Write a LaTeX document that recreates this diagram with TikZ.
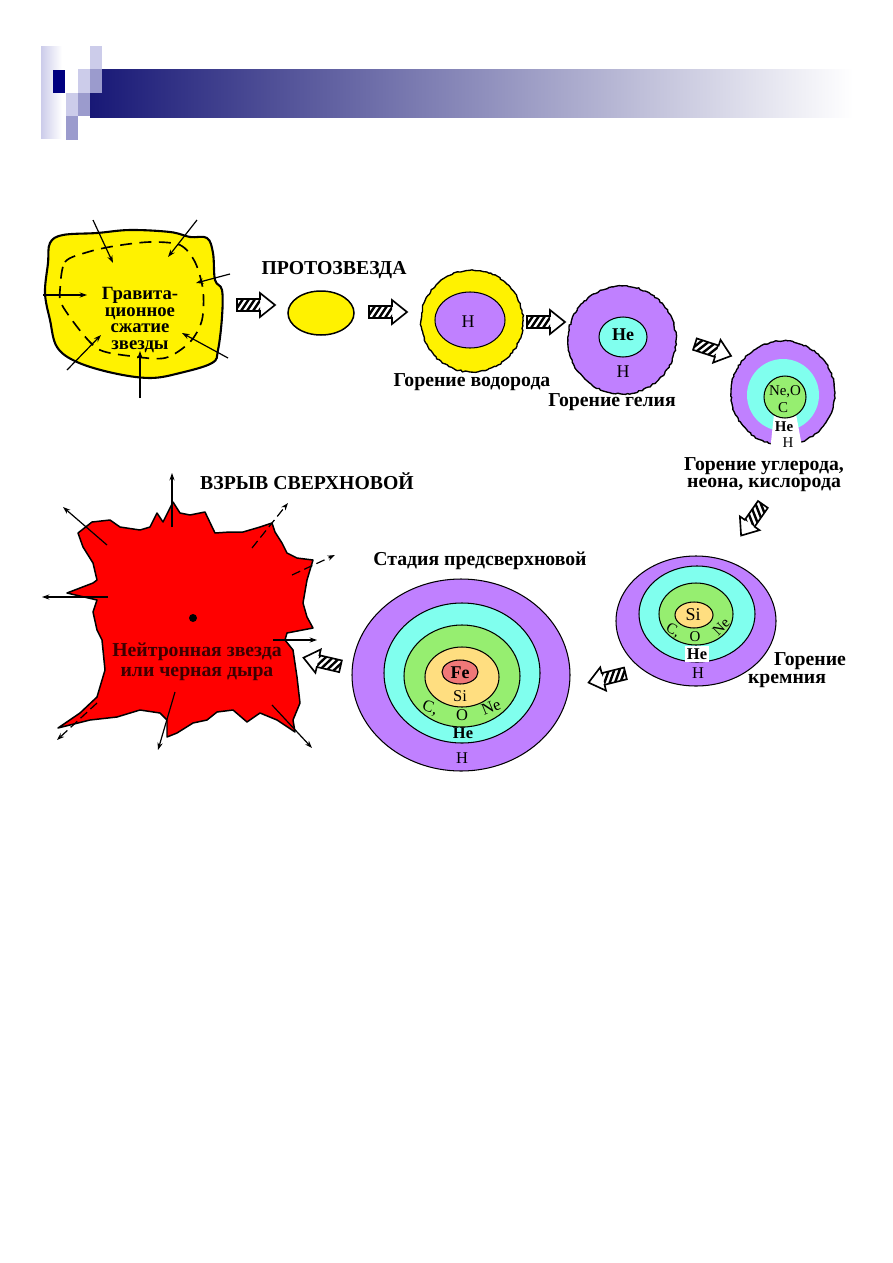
\documentclass[tikz,border=0pt]{standalone}
\usepackage{fontspec}
\setmainfont{Liberation Serif}
\usetikzlibrary{arrows.meta,decorations.pathmorphing}

\definecolor{navyband}{RGB}{24,24,118}
\definecolor{navysq}{RGB}{0,0,128}
\definecolor{bandmid}{RGB}{185,187,203}
\definecolor{lavlight}{RGB}{204,204,234}
\definecolor{lavdark}{RGB}{155,155,205}
\definecolor{shellH}{RGB}{192,128,255}
\definecolor{shellHe}{RGB}{128,255,238}
\definecolor{shellC}{RGB}{150,238,112}
\definecolor{shellSi}{RGB}{255,222,128}
\definecolor{shellFe}{RGB}{240,120,120}
\definecolor{burst}{RGB}{255,0,0}
\definecolor{coretext}{RGB}{60,0,0}

\begin{document}
\pgfmathsetseed{42}
\begin{tikzpicture}[x=0.0235cm, y=-0.0235cm,
  caption/.style={font=\bfseries\fontsize{13.2}{12}\selectfont, inner sep=0pt, align=center},
  elem/.style={font=\fontsize{11}{11}\selectfont, inner sep=0pt},
  elemb/.style={font=\bfseries\fontsize{11}{11}\selectfont, inner sep=0pt},
  rough/.style={decorate, decoration={random steps, segment length=1.6pt, amplitude=0.5pt}},
  shell/.style={draw=black, line width=0.7pt},
  pull/.style={-{Stealth[length=5pt,width=3.5pt]}, line width=0.8pt},
  pics/hatcharrow/.style={code={
    \fill[white] (-19,-6) -- (4,-6) -- (4,-12) -- (19,0) -- (4,12) -- (4,6) -- (-19,6) -- cycle;
    \begin{scope}
      \clip (-19,-6) rectangle (4,6);
      \foreach \k in {-27,-21,...,9}
        \draw[line width=1.6pt] (\k,6) -- (\k+8,-6);
    \end{scope}
    \draw[line width=1.1pt] (-19,-6) -- (4,-6) -- (4,-12) -- (19,0) -- (4,12) -- (4,6) -- (-19,6) -- cycle;
  }}]
\useasboundingbox (0,0) rectangle (893,1263);

% header band
\shade[left color=lavlight, right color=white] (41,46) rectangle (62,138);
\fill[lavlight] (90,46) rectangle (102,69);
\fill[lavlight] (78,69) rectangle (90,93);
\shade[left color=navyband, middle color=bandmid, right color=white] (90,69) rectangle (853,117);
\fill[lavdark] (90,69) rectangle (102,93);
\fill[navysq] (53,70) rectangle (65,93);
\fill[lavlight] (66,93) rectangle (78,116);
\fill[lavdark] (78,93) rectangle (90,116);
\fill[lavdark] (66,116) rectangle (78,140);

% gravitational collapse
\draw[fill=yellow, line width=1.4pt] plot[smooth cycle, tension=0.6] coordinates {
  (50,243) (63,235) (97,233) (130,230) (170,232) (190,237) (207,238) (213,253)
  (215,280) (222,290) (222,317) (218,350) (212,363) (180,373) (150,378) (113,373)
  (77,362) (57,347) (50,320) (45,293) (48,263)};
\draw[line width=1.1pt, dash pattern=on 8pt off 5pt] plot[smooth cycle] coordinates {
  (60,290) (65,262) (88,252) (115,246) (150,242) (180,245) (195,262) (203,290)
  (202,320) (190,342) (165,358) (130,356) (100,350) (82,333) (62,305)};
\draw[pull] (93,220) -- (113,263);
\draw[pull] (197,220) -- (168,257);
\draw[pull] (230,274) -- (196,283);
\draw[pull] (43,295) -- (87,295);
\draw[pull] (228,358) -- (182,333);
\draw[pull] (67,370) -- (101,335);
\draw[pull] (140,398) -- (140,351);
\node[caption, font=\bfseries\fontsize{12.5}{11}\selectfont] (grav) at (140,320) {Гравита-\\ционное\\сжатие\\звезды};

\pic at (256,305) {hatcharrow};

% protostar
\draw[fill=yellow, line width=1pt] (321,313) ellipse[x radius=33, y radius=22];
\node[caption] (proto) at (334,270) {ПРОТОЗВЕЗДА};

\pic at (388,312) {hatcharrow};

% hydrogen burning
\draw[rough, fill=yellow, line width=0.9pt] (472,321) circle[radius=51];
\draw[shell, fill=shellH] (470,320) ellipse[x radius=35, y radius=28];
\node[elem, font=\fontsize{12}{12}\selectfont] (hcore) at (468,322) {H};
\node[caption] (hburn) at (472,382) {Горение водорода};

\pic at (546,322) {hatcharrow};

% helium burning
\draw[rough, fill=shellH, line width=0.9pt] (622,340) circle[radius=54];
\draw[shell, fill=shellHe] (623,337) ellipse[x radius=24, y radius=20];
\node[elemb, font=\bfseries\fontsize{12}{12}\selectfont] (hecore) at (623,335) {He};
\node[elem, font=\fontsize{12}{12}\selectfont] (heshell) at (623,372) {H};
\node[caption] (heburn) at (612,402) {Горение гелия};

\pic[rotate=-18] at (713,350) {hatcharrow};

% carbon, neon, oxygen burning
\draw[rough, fill=shellH, line width=0.9pt] (783,393) circle[radius=52];
\fill[shellHe] (783,395) circle[radius=36];
\fill[white] (774,414) -- (796,414) -- (803,452) -- (770,452) -- cycle;
\draw[shell, fill=shellC] (785,397) circle[radius=21];
\node[elem, font=\fontsize{10}{10}\selectfont] (cneo) at (785,392) {Ne,O};
\node[elem, font=\fontsize{10}{10}\selectfont] (ccore) at (783,408) {C};
\node[elemb, font=\bfseries\fontsize{10}{10}\selectfont] (che) at (784,427) {He};
\node[elem, font=\fontsize{10}{10}\selectfont] (ch) at (788,443) {H};
\node[caption, font=\bfseries\fontsize{13.2}{11.5}\selectfont] (cburn) at (764,475) {Горение углерода,\\неона, кислорода};

\pic[rotate=235] at (752,520) {hatcharrow};

% silicon burning
\draw[shell, fill=shellH] (696,621) ellipse[x radius=80, y radius=65];
\draw[shell, fill=shellHe] (697,614) ellipse[x radius=58, y radius=48];
\draw[shell, fill=shellC] (696,614) ellipse[x radius=37, y radius=31];
\draw[shell, fill=shellSi] (694,615) ellipse[x radius=19, y radius=13];
\node[elem, font=\fontsize{12}{12}\selectfont] (sicore) at (693,615) {Si};
\node[elem, font=\fontsize{10}{10}\selectfont, rotate=-30] (sic) at (673,631) {C,};
\node[elem, font=\fontsize{10}{10}\selectfont] (sio) at (695,637) {O};
\node[elem, font=\fontsize{10}{10}\selectfont, rotate=45] (sine) at (721,627) {Ne};
\node[elemb, fill=white, inner sep=1.5pt] (sihe) at (697,654) {He};
\node[elem] (sih) at (698,673) {H};
\node[caption] (siburn1) at (810,661) {Горение};
\node[caption] (siburn2) at (787,681) {кремния};

\pic[rotate=194] at (607,678) {hatcharrow};

% presupernova
\draw[shell, fill=shellH] (461,675) ellipse[x radius=109, y radius=96];
\draw[shell, fill=shellHe] (462,673) ellipse[x radius=78, y radius=70];
\draw[shell, fill=shellC] (462,676) ellipse[x radius=58, y radius=51];
\draw[shell, fill=shellSi] (462,677) ellipse[x radius=37, y radius=30];
\draw[shell, fill=shellFe] (460,672) ellipse[x radius=18, y radius=12];
\node[elemb, font=\bfseries\fontsize{12}{12}\selectfont] (fecore) at (460,673) {Fe};
\node[elem] (psi) at (460,696) {Si};
\node[elem, rotate=-20] (pc) at (430,708) {C,};
\node[elem] (po) at (462,715) {O};
\node[elem, rotate=22] (pne) at (491,707) {Ne};
\node[elemb] (phe) at (463,733) {He};
\node[elem] (ph) at (462,758) {H};
\node[caption] (presn) at (480,561) {Стадия предсверхновой};

\pic[rotate=167] at (322,662) {hatcharrow};

% supernova
\draw[fill=burst, line width=1pt, line join=round] (78,533) -- (92,522) -- (110,520)
  -- (120,527) -- (140,530) -- (150,527) -- (157,513) -- (163,522) -- (173,502)
  -- (180,513) -- (190,515) -- (205,512) -- (215,533) -- (230,532) -- (243,532)
  -- (260,527) -- (272,523) -- (275,532) -- (282,543) -- (287,553) -- (297,558)
  -- (313,560) -- (307,580) -- (303,603) -- (307,617) -- (313,628) -- (287,633)
  -- (285,640) -- (293,650) -- (297,677) -- (300,703) -- (293,720) -- (295,732)
  -- (277,720) -- (260,713) -- (247,722) -- (233,710) -- (217,712) -- (207,720)
  -- (193,723) -- (177,733) -- (167,737) -- (167,720) -- (160,713) -- (140,710)
  -- (117,717) -- (90,720) -- (58,728) -- (80,713) -- (97,697) -- (105,670)
  -- (102,640) -- (97,630) -- (93,612) -- (97,600) -- (67,593) -- (93,583)
  -- (97,580) -- (93,563) -- (83,547) -- cycle;
\fill (193,618) circle[radius=4];
\draw[pull] (172,527) -- (172,473);
\draw[pull] (107,545) -- (63,507);
\draw[pull, dash pattern=on 6pt off 3pt] (252,548) -- (288,503);
\draw[pull, dash pattern=on 6pt off 3pt] (292,575) -- (335,555);
\draw[pull] (108,597) -- (42,597);
\draw[pull] (273,640) -- (317,640);
\draw[pull, dash pattern=on 6pt off 3pt] (97,703) -- (57,740);
\draw[pull] (175,692) -- (158,750);
\draw[pull] (272,705) -- (312,748);
\node[caption] (sn) at (307,481) {ВЗРЫВ СВЕРХНОВОЙ};
\node[caption, font=\bfseries\fontsize{13.2}{13.3}\selectfont, text=coretext] (core) at (197,662) {Нейтронная звезда\\или черная дыра};
\end{tikzpicture}
\end{document}
